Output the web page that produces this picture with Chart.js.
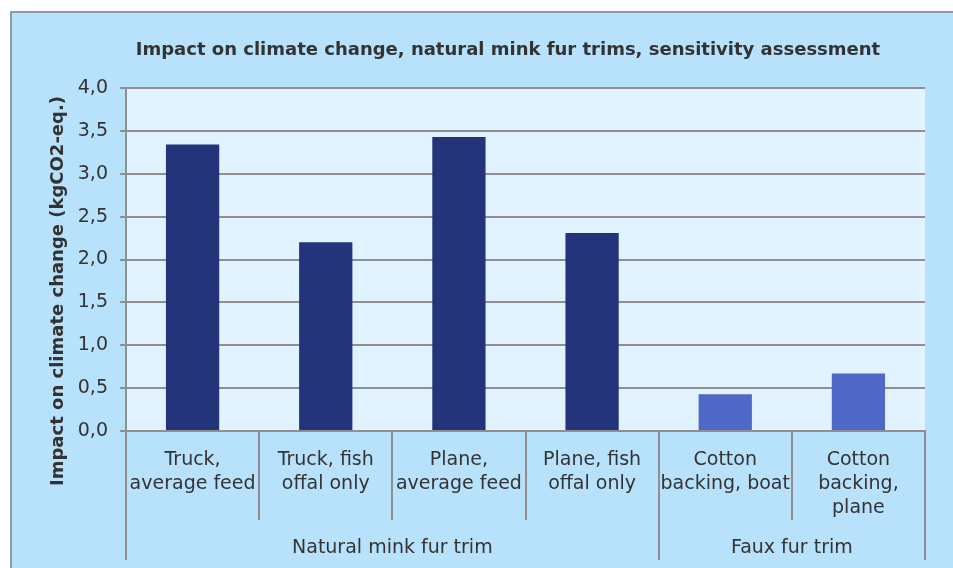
<!DOCTYPE html>
<html>
<head>
<meta charset="utf-8">
<script src="https://cdn.jsdelivr.net/npm/chart.js@4.4.0/dist/chart.umd.min.js"></script>
<style>
  html, body { margin: 0; padding: 0; background: #ffffff; overflow: hidden; }
  #frame {
    position: absolute; left: 10px; top: 11px;
    width: 960px; height: 570px;
    background: #b8e2fc; border: 2px solid #8f9ba6;
  }
  #fig_container { position: absolute; left: 0; top: 0; }
</style>
</head>
<body>
<div id="frame">
  <canvas id="fig_container" width="941" height="555"></canvas>
</div>
<script>
// data
const categories = [
    ["Truck,", "average feed"],
    ["Truck, fish", "offal only"],
    ["Plane,", "average feed"],
    ["Plane, fish", "offal only"],
    ["Cotton", "backing, boat"],
    ["Cotton", "backing,", "plane"]
];
const impact = [3.34, 2.20, 3.43, 2.31, 0.43, 0.67];
const groupNames = ["Natural mink fur trim", "Faux fur trim"];
const groupSizes = [4, 2];
const yMin = 0, yMax = 4, yStep = 0.5;

const chartTitle = 'Impact on climate change, natural mink fur trims, sensitivity assessment';
const yTitle = 'Impact on climate change (kgCO2-eq.)';

const groupColors = ['#24347a', '#5068c8'];
const textColor = '#333333';
const lineColor = '#8f8f8f';
const labelFont = '"DejaVu Sans"';

// colour of each bar follows its group
const barColors = [];
groupSizes.forEach((n, g) => { for (let i = 0; i < n; i++) barColors.push(groupColors[g]); });

const commaDecimal = (v) => v.toFixed(1).replace('.', ',');

const decor = {
    id: 'decor',
    beforeDraw(chart) {
        const a = chart.chartArea;
        const ctx = chart.ctx;
        ctx.save();
        ctx.fillStyle = '#e1f3fe';
        ctx.fillRect(a.left, a.top, a.right - a.left, a.bottom - a.top);
        ctx.restore();
    },
    afterDraw(chart) {
        const ctx = chart.ctx;
        const xs = chart.scales.x;
        const bottom = chart.chartArea.bottom;
        ctx.save();
        ctx.strokeStyle = lineColor;
        ctx.lineWidth = 2;

        // boundaries between groups go deeper than the ones between categories
        const groupEdges = [0];
        groupSizes.forEach(n => groupEdges.push(groupEdges[groupEdges.length - 1] + n));
        for (let k = 0; k <= categories.length; k++) {
            const x = Math.round(xs.getPixelForValue(k - 0.5));
            const deep = groupEdges.includes(k);
            ctx.beginPath();
            ctx.moveTo(x, bottom);
            ctx.lineTo(x, bottom + (deep ? 129 : 89));
            ctx.stroke();
        }

        // group labels
        ctx.fillStyle = textColor;
        ctx.font = '19px ' + labelFont;
        ctx.textAlign = 'center';
        ctx.textBaseline = 'middle';
        groupNames.forEach((name, g) => {
            const x0 = xs.getPixelForValue(groupEdges[g] - 0.5);
            const x1 = xs.getPixelForValue(groupEdges[g + 1] - 0.5);
            ctx.fillText(name, (x0 + x1) / 2, bottom + 117);
        });

        // chart title
        ctx.font = 'bold 18px ' + labelFont;
        ctx.fillText(chartTitle, 496, 37);

        // y axis title
        ctx.translate(46, 278);
        ctx.rotate(-Math.PI / 2);
        ctx.fillText(yTitle, 0, 0);
        ctx.restore();
    }
};

const make_chart = () => {
    const bar_chart = document.getElementById('fig_container').getContext('2d');
    new Chart(bar_chart, {
        type: 'bar',
        data: {
            labels: categories,
            datasets: [{
                data: impact,
                backgroundColor: barColors,
                borderWidth: 0,
                barPercentage: 0.4,
                categoryPercentage: 1.0
            }]
        },
        options: {
            responsive: false,
            animation: false,
            layout: { padding: { left: 0, right: 28, top: 75, bottom: 0 } },
            plugins: {
                legend: { display: false },
                tooltip: { enabled: false },
                title: { display: false }
            },
            scales: {
                x: {
                    grid: { display: false, drawTicks: false },
                    border: { display: true, color: lineColor, width: 2 },
                    ticks: {
                        color: textColor,
                        font: { family: labelFont, size: 19, lineHeight: 1.26 },
                        padding: 17,
                        maxRotation: 0,
                        autoSkip: false
                    },
                    afterFit: (scale) => { scale.height = 137; }
                },
                y: {
                    min: yMin,
                    max: yMax,
                    grid: { color: lineColor, lineWidth: 2, tickLength: 6, tickColor: lineColor },
                    border: { display: true, color: lineColor, width: 2 },
                    ticks: {
                        stepSize: yStep,
                        color: textColor,
                        padding: 12,
                        font: { family: labelFont, size: 19 },
                        callback: (v) => commaDecimal(v)
                    },
                    afterFit: (scale) => { scale.width = 114; }
                }
            }
        },
        plugins: [decor]
    });
};

make_chart();
</script>
</body>
</html>
